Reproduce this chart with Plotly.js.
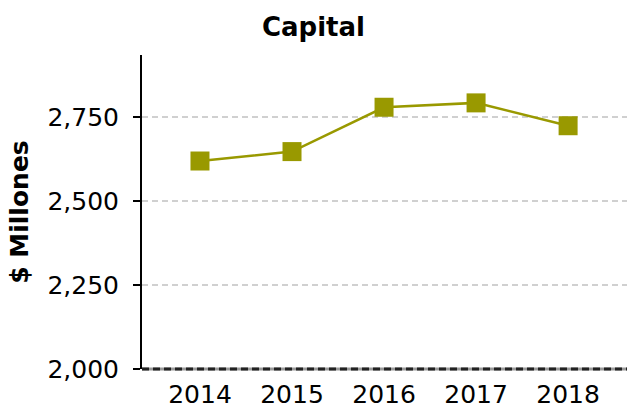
<!DOCTYPE html>
<html><head><meta charset="utf-8">
<script src="https://cdn.plot.ly/plotly-3.0.1.min.js"></script>
<style>html,body{margin:0;padding:0;background:#fff}#chart{width:627px;height:409px}</style>
</head><body><div id="chart"></div>
<script>
const years = [2014, 2015, 2016, 2017, 2018];
const capital = [2619, 2647, 2779, 2792, 2724];
const yTicks = [2000, 2250, 2500, 2750];
const yTickLabels = ['2,000', '2,250', '2,500', '2,750'];
const color = '#999900';
const font = 'DejaVu Sans, sans-serif';

const trace = {
  x: years, y: capital, type: 'scatter', mode: 'lines+markers',
  line: {color: color, width: 2.5},
  marker: {symbol: 'square', size: 19, color: color},
  hoverinfo: 'skip'
};
const layout = {
  width: 627, height: 409,
  margin: {l: 142, r: 0, t: 55, b: 40},
  paper_bgcolor: '#fff', plot_bgcolor: '#fff',
  showlegend: false,
  font: {family: font, color: '#000', size: 26},
  title: {text: '<b>Capital</b>', x: 0.5, xref: 'container', xanchor: 'center', y: 0.935, yref: 'container', yanchor: 'middle', font: {family: font, size: 26, color: '#000'}},
  xaxis: {
    range: [2013.37, 2018.64], tickvals: years, ticktext: years.map(String),
    showgrid: false, zeroline: false, showline: false, ticks: '', ticklen: 0,
    ticklabelstandoff: 8,
    tickfont: {family: font, size: 25}
  },
  yaxis: {
    range: [2000, 2934.5], tickvals: yTicks, ticktext: yTickLabels,
    showgrid: true, gridcolor: '#d0d0d0', griddash: '6px,4px', gridwidth: 1.5,
    zeroline: false, showline: true, linecolor: '#000', linewidth: 2,
    ticks: 'outside', ticklen: 7, tickwidth: 2, tickcolor: '#000',
    ticklabelstandoff: 9,
    tickfont: {family: font, size: 25},
    title: {text: '<b>$ Millones</b>', font: {family: font, size: 25}, standoff: 12}
  },
  shapes: [
    {type: 'line', xref: 'paper', yref: 'paper', x0: 0, x1: 1, y0: 0, y1: 0,
      line: {color: '#999', width: 3}, layer: 'above'},
    {type: 'line', xref: 'paper', yref: 'paper', x0: 0, x1: 1, y0: 0, y1: 0,
      line: {color: '#222', width: 3, dash: '7px,4px'}, layer: 'above'}
  ]
};
Plotly.newPlot('chart', [trace], layout, {displayModeBar: false, staticPlot: true});
</script></body></html>
